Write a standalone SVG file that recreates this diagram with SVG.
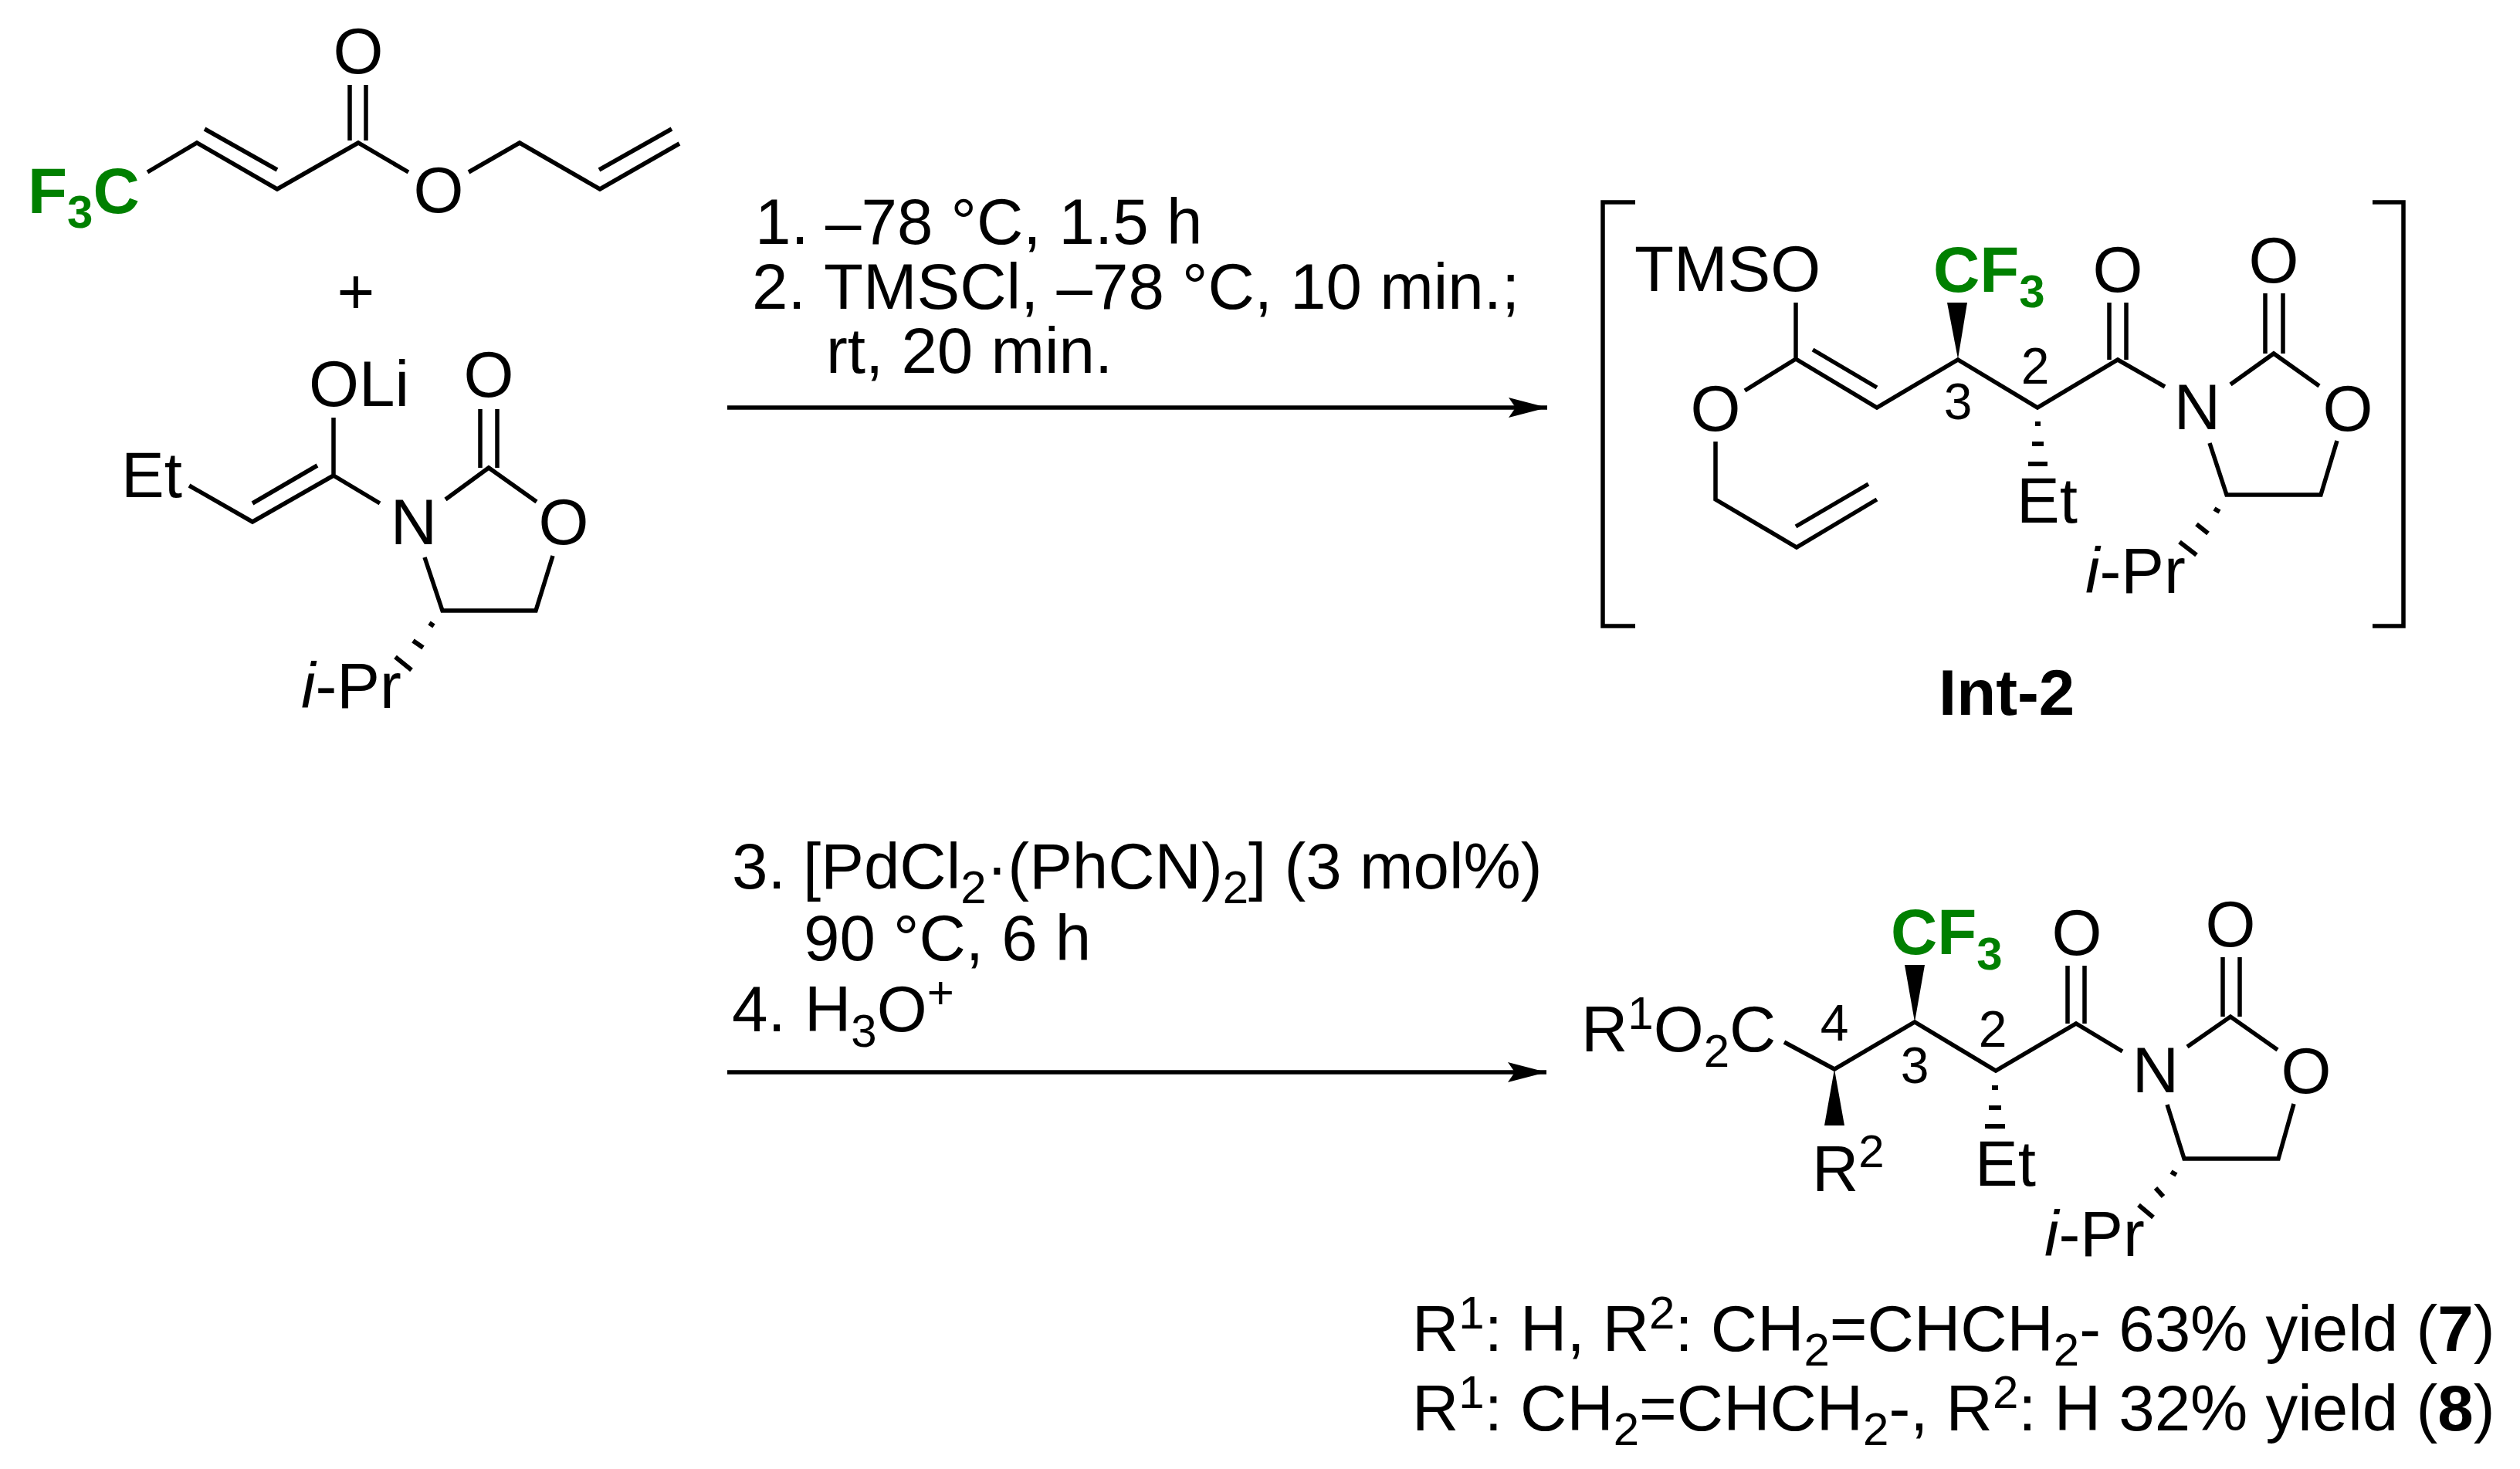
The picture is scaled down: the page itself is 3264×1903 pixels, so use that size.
<svg xmlns="http://www.w3.org/2000/svg" width="3264" height="1903" viewBox="0 0 3264 1903">
<style>
text{font-family:"Liberation Sans",Arial,sans-serif;font-size:83.5px;fill:#000}
.g{fill:#008000;font-weight:bold}
.b{font-weight:bold}
.n{font-size:66px;text-anchor:middle}
.m{text-anchor:middle}
.s{font-size:60px}
.bond{fill:none;stroke:#000;stroke-width:5.5}
.hash{fill:none;stroke:#000;stroke-width:6}
</style>
<defs>
<marker id="ah" markerUnits="userSpaceOnUse" markerWidth="52" markerHeight="28" refX="50" refY="14" orient="auto"><path d="M50 14L0 1L9 14L0 27Z" fill="#000"/></marker>
</defs>
<rect width="3264" height="1903" fill="#fff"/>

<g id="connectors">
<path d="M942 528H2004" fill="none" stroke="#000" stroke-width="5.5" marker-end="url(#ah)"/>
<path d="M942 1389H2003" fill="none" stroke="#000" stroke-width="5.5" marker-end="url(#ah)"/>
</g>

<g id="acrylate">
<path class="bond" d="M191 223L255 185L359 245L464 185L529 223M265 167L359 220M453 110V182M474 110V182M607 223L673 185L777 245L880 186M776 220L870 167"/>
<text class="m" x="464" y="95">O</text>
<text class="m" x="568" y="275">O</text>
<text class="g" x="36" y="276">F<tspan class="s" dy="19">3</tspan><tspan dy="-19">C</tspan></text>
</g>

<text id="plus" class="m" x="461" y="406">+</text>

<g id="enolate">
<path class="bond" d="M245 629L327 676L432 616M327 652L411 603M432 541V616L492 652M577 647L633 606L695 650M622 530V606M644 530V606M550 722L573 791H694L716 720"/>
<path class="hash" d="M556 807L562 811M535 830L548 839M512 851L533 868"/>
<text x="400" y="526">OLi</text>
<text class="m" x="633" y="514">O</text>
<text x="157" y="644">Et</text>
<text class="m" x="536" y="705">N</text>
<text class="m" x="730" y="705">O</text>
<text x="390" y="917"><tspan font-style="italic">i</tspan>-Pr</text>
</g>

<g id="conditions-1">
<text x="978" y="316">1.</text><text x="1069" y="316">–78 °C, 1.5 h</text>
<text x="974" y="400">2.</text><text x="1067" y="400">TMSCl, –78 °C, 10 min.;</text>
<text x="1070" y="483">rt, 20 min.</text>
</g>

<g id="int-2">
<path class="bond" d="M2118 262H2076V811H2118M3073 262H3113V811H3073"/>
<path class="bond" d="M2326 392V465L2431 528L2536 466L2639 528L2743 466L2804 501M2348 453L2431 502M2732 392V466M2754 392V466M2889 498L2945 458L3004 500M2934 380V458M2957 380V458M2862 574L2884 641H3006L3027 571M2222 572V647L2327 709L2431 647M2326 682L2420 627M2260 506L2326 465"/>
<path d="M2536 465L2522 392H2548Z" fill="#000"/>
<path class="hash" d="M2636 549H2643M2632 575H2647M2627 601H2652M2868 659L2875 663M2845 679L2860 691M2823 702L2845 719"/>
<text x="2117" y="377">TMSO</text>
<text class="m" x="2222" y="558">O</text>
<text class="g" x="2504" y="378">CF<tspan class="s" dy="20">3</tspan></text>
<text class="m" x="2743" y="378">O</text>
<text class="m" x="2945" y="366">O</text>
<text class="m" x="2846" y="556">N</text>
<text class="m" x="3041" y="558">O</text>
<text x="2612" y="677">Et</text>
<text x="2701" y="768"><tspan font-style="italic">i</tspan>-Pr</text>
<text class="n" x="2636" y="497">2</text>
<text class="n" x="2536" y="543">3</text>
<text class="b" x="2511" y="926">Int-2</text>
</g>

<g id="conditions-2">
<text x="948" y="1151">3.</text><text x="1040" y="1151">[PdCl<tspan class="s" dy="19">2</tspan><tspan dy="-19">·(PhCN)</tspan><tspan class="s" dy="19">2</tspan><tspan dy="-19">] (3 mol%)</tspan></text>
<text x="1041" y="1244">90 °C, 6 h</text>
<text x="948" y="1336">4.</text><text x="1042" y="1336">H<tspan class="s" dy="20">3</tspan><tspan dy="-20">O</tspan><tspan class="s" dy="-30">+</tspan></text>
</g>

<g id="product">
<path class="bond" d="M2311 1350L2376 1385L2480 1324L2585 1387L2689 1326L2749 1362M2678 1251V1326M2700 1251V1326M2833 1356L2889 1317L2950 1360M2879 1240V1317M2901 1240V1317M2807 1431L2829 1501H2951L2971 1430"/>
<path d="M2480 1324L2467 1250H2493ZM2376 1385L2363 1458H2389Z" fill="#000"/>
<path class="hash" d="M2580 1409H2588M2576 1435H2592M2571 1459H2597M2812 1518L2819 1522M2792 1539L2802 1550M2770 1561L2789 1577"/>
<text x="2048" y="1362">R<tspan class="s" dy="-29">1</tspan><tspan dy="29">O</tspan><tspan class="s" dy="20">2</tspan><tspan dy="-20">C</tspan></text>
<text class="g" x="2449" y="1236">CF<tspan class="s" dy="20">3</tspan></text>
<text class="m" x="2690" y="1237">O</text>
<text class="m" x="2889" y="1226">O</text>
<text class="m" x="2792" y="1415">N</text>
<text class="m" x="2987" y="1416">O</text>
<text x="2347" y="1543">R<tspan class="s" dy="-31">2</tspan></text>
<text x="2558" y="1536">Et</text>
<text x="2648" y="1627"><tspan font-style="italic">i</tspan>-Pr</text>
<text class="n" x="2376" y="1348">4</text>
<text class="n" x="2480" y="1403">3</text>
<text class="n" x="2581" y="1356">2</text>
</g>

<g id="yields">
<text x="1829" y="1750">R<tspan class="s" dy="-29">1</tspan><tspan dy="29">: H, R</tspan><tspan class="s" dy="-29">2</tspan><tspan dy="29">: CH</tspan><tspan class="s" dy="19">2</tspan><tspan dy="-19">=CHCH</tspan><tspan class="s" dy="19">2</tspan><tspan dy="-19">- 63% yield (</tspan><tspan class="b">7</tspan>)</text>
<text x="1829" y="1853">R<tspan class="s" dy="-29">1</tspan><tspan dy="29">: CH</tspan><tspan class="s" dy="19">2</tspan><tspan dy="-19">=CHCH</tspan><tspan class="s" dy="19">2</tspan><tspan dy="-19">-, R</tspan><tspan class="s" dy="-29">2</tspan><tspan dy="29">: H 32% yield (</tspan><tspan class="b">8</tspan>)</text>
</g>
</svg>
